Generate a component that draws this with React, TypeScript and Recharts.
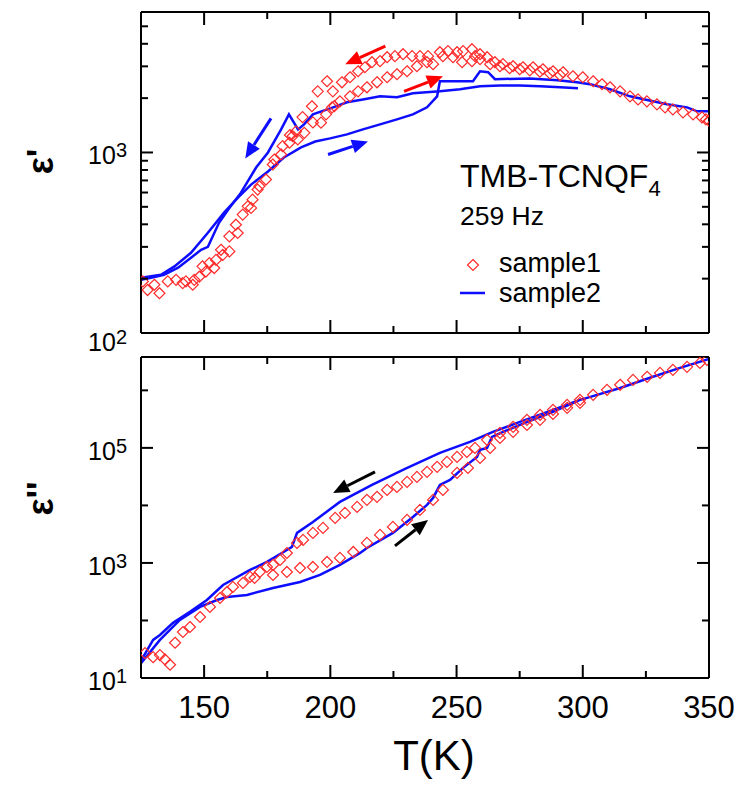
import { ComposedChart, Line, Scatter, XAxis, YAxis, ReferenceLine } from "recharts";

const FONT = "'Liberation Sans', Arial, Helvetica, sans-serif";
const RED = "#ff2b2b";
const BLUE = "#0d0dff";
const AXIS = { stroke: "#000", strokeWidth: 2 };

// axes
const xTicks = [150, 175, 200, 225, 250, 275, 300, 325, 350];
const xMajor = [150, 200, 250, 300, 350];
const topYTicks = [100, 200, 300, 400, 500, 600, 700, 800, 900, 1000, 2000, 3000, 4000, 5000];
const topYMajor = [100, 1000];
const botYTicks = [10, 100, 1000, 10000, 100000, 1000000];
const botYMajor = [10, 1000, 100000];

// eps' : sample1 (diamonds), [T, value]
const s1TopCool: [number, number][] = [
  [350, 1500], [348.8, 1525], [347.2, 1564], [343.7, 1626], [339.7, 1668], [335.7, 1733], [332.6, 1778],
  [329.4, 1848], [325.4, 1920], [321.9, 1968], [318.7, 2047], [314.8, 2182], [310.8, 2297], [307.6, 2388],
  [304.1, 2480], [300, 2610], [296.1, 2644], [292.2, 2783], [288.2, 2818], [284.2, 2891], [280.3, 2965],
  [276.3, 2965], [272.4, 3005], [268.4, 3084], [265.2, 3162], [262.1, 3371], [259.3, 3502], [256.1, 3733],
  [252.6, 3643], [250.2, 3593], [246.6, 3643], [243.4, 3593], [238.7, 3415], [235.5, 3415], [232.4, 3415],
  [228.8, 3502], [225.6, 3415], [222.5, 3371], [219.7, 3205], [216.5, 3162], [213.7, 2965], [211, 2818],
  [207.8, 2610], [204.6, 2448], [201, 2182], [198.7, 2480], [195, 2182], [192.7, 1803], [189, 1570],
  [186.4, 1308], [184, 1250],
];
const s1TopHeat: [number, number][] = [
  [125.7, 193], [127.6, 173], [130.3, 185], [132.3, 166], [135.6, 193], [138.9, 197], [141.5, 189],
  [142.8, 193], [145.5, 185], [146.1, 197], [148.1, 205], [149.4, 234], [150.7, 219], [152.1, 244],
  [154, 229], [154.7, 254], [156.7, 289], [157.4, 271], [160, 283], [160, 343], [162.6, 398], [163.3, 358],
  [165.3, 453], [167.3, 503], [168.6, 493], [169.2, 548], [171.2, 623], [171.9, 650], [174.5, 708],
  [177.2, 858], [177.8, 914], [180.5, 975], [181.1, 1084], [183.8, 1132], [185.1, 1233], [187.1, 1181],
  [189.7, 1285], [193.1, 1468], [196.3, 1462], [198.3, 1626], [200.7, 1778], [201.6, 1807], [203.8, 1920],
  [207.8, 2047], [211, 2182], [214.5, 2297], [218.5, 2448], [222.5, 2610], [226.4, 2713], [230.4, 2818],
  [234.3, 3005], [238.3, 3162], [240.7, 3084], [244.6, 3415], [248.6, 3371], [252.2, 3162], [256.1, 3205],
  [257.3, 3415], [259.3, 3287], [263.3, 3084], [267.2, 3005], [271, 2930], [275, 2890], [279, 2850],
  [283, 2800], [287, 2740], [291, 2680],
];

// eps' : sample2 (line)
const s2TopHeat: [number, number][] = [
  [125, 202], [132.9, 210], [138.1, 233], [144.8, 278], [151.5, 359], [157.9, 464], [163.4, 562],
  [168.6, 664], [175.3, 784], [181.6, 938], [188.4, 1066], [194, 1150], [199.9, 1197], [206.6, 1259],
  [212.9, 1342], [219.7, 1431], [226.4, 1525], [232.7, 1626], [238.3, 1778], [242.3, 2047], [243.4, 2480],
  [248.6, 2480], [256.5, 2480], [259.3, 2818], [262.5, 2783], [265.2, 2547], [279, 2570], [290, 2512],
  [297.7, 2448], [302.9, 2388], [310.8, 2239], [318.7, 2047], [327.8, 1920], [333.4, 1848], [341.3, 1778],
  [345.3, 1690], [350, 1690],
];
const s2TopCool: [number, number][] = [
  [298.1, 2270], [291, 2297], [283.1, 2326], [275.1, 2350], [267.2, 2350], [259.3, 2326], [251.4, 2239],
  [243.4, 2182], [232.7, 2128], [226.4, 2021], [219.7, 2047], [212.9, 1968], [206.6, 1897], [201.1, 1778],
  [193.1, 1626], [189.6, 1431], [187.2, 1342], [183.6, 1626], [180.5, 1342], [175.3, 1000], [170.6, 825],
  [164.6, 599], [159.5, 482], [155.9, 408], [151.5, 300], [148.8, 289], [144.8, 261], [139.7, 230],
  [134.1, 210], [129, 202], [125, 197],
];

// eps'' : sample1
const s1BotCool: [number, number][] = [
  [349.2, 3390000], [346.4, 3000000], [341.3, 2560000], [335.7, 2270000], [330.6, 2010000], [325.5, 1720000],
  [319.9, 1520000], [314.8, 1250000], [309.6, 1020000], [304.1, 836000], [298.9, 684000], [293.8, 560000],
  [288.2, 458000], [283.1, 375000], [277.9, 307000], [272.4, 232000], [267.2, 182000], [262.1, 138000],
  [257.3, 100000], [254.1, 85000], [250.2, 69700], [246.2, 57100], [242.3, 46800], [238.3, 38300],
  [234.3, 31300], [230.4, 25600], [226.4, 21000], [222.5, 18600], [218.5, 14100], [214.5, 12500],
  [210.6, 9420], [205.8, 7410], [201.9, 6070], [197.1, 4060], [193.1, 3330], [189.2, 2510], [186.8, 2230],
  [182.8, 1490], [180.1, 1130], [177.3, 923], [174.9, 851], [172.1, 697], [168.2, 571], [165.4, 449],
  [161.4, 383], [159.1, 313], [156.3, 246], [152.3, 172], [148.4, 115], [144.4, 77], [141.6, 63],
  [138.5, 41], [136.5, 17], [134.5, 21], [132.5, 25], [129.8, 23], [126.6, 27],
];
const s1BotHeat: [number, number][] = [
  [170, 548], [177.3, 618], [182.8, 697], [188, 818], [193.1, 851], [198.7, 1040], [203.8, 1222],
  [209.1, 1552], [214.5, 2228], [219.7, 3069], [224.8, 4227], [230.4, 5600], [235.5, 8360], [240.7, 12470],
  [244.6, 18600], [250.2, 36700], [254.5, 44900], [259.3, 67000], [263.3, 100000], [267.2, 149000],
  [272.4, 190000], [277.9, 250000], [283.1, 307000], [288.2, 390000], [293.8, 497000], [298.9, 607000],
];

// eps'' : sample2
const s2BotHeat: [number, number][] = [
  [125, 18], [132.5, 46], [140.4, 102], [148.4, 172], [155.1, 227], [159.1, 256], [167, 278], [177.3, 367],
  [188, 467], [195.9, 619], [203.8, 923], [211.8, 1492], [214.5, 1824], [224.8, 3327], [232.7, 6310],
  [238.3, 10200], [240.7, 13490], [243.4, 22730], [247.4, 27750], [252.6, 44900], [258.1, 69660],
  [259.3, 92300], [262.1, 100000], [264, 155200], [268.4, 189600], [275.1, 251000], [288.2, 422600],
  [298.9, 684000], [301.7, 741000], [314.8, 1100000], [327.8, 1720000], [338.5, 2460000], [350, 3500000],
];
const s2BotCool: [number, number][] = [
  [298, 660000], [288.2, 458000], [275.1, 283000], [264.4, 189600], [255.3, 127000], [243.4, 81800],
  [229.6, 43150], [216.5, 22730], [203.8, 11510], [193.1, 5164], [186.8, 3327], [184.8, 1898],
  [182.8, 1682], [174.9, 1041], [168.2, 756], [157.5, 414], [151.1, 227], [144.4, 141], [137.7, 91],
  [132.5, 56], [129.8, 46], [125, 20],
];

// annotation arrows: [tail, tip]
const topRedArrows: [number, number][][] = [
  [[221.8, 3881], [205.9, 3084]],
  [[229.2, 2182], [244.6, 2644]],
];
const topBlueArrows: [number, number][][] = [
  [[176.5, 1545], [166.3, 926]],
  [[199.1, 975], [214.9, 1151]],
];
const botArrows: [number, number][][] = [
  [[217.7, 38300], [201.1, 16500]],
  [[225.6, 1977], [238.7, 5600]],
];

const pts = (a: [number, number][]) => a.map(([T, v]) => ({ T, v }));

const Diamond = (p: any) => {
  const { cx, cy } = p;
  const r = 5.5;
  if (cx == null || cy == null) return <g />;
  return (
    <path
      d={`M${cx},${cy - r}L${cx + r},${cy}L${cx},${cy + r}L${cx - r},${cy}Z`}
      fill="none"
      stroke={RED}
      strokeWidth={1.2}
    />
  );
};

const arrowShape = (color: string) => (p: any) => {
  const { x1, y1, x2, y2 } = p;
  const dx = x2 - x1;
  const dy = y2 - y1;
  const L = Math.hypot(dx, dy) || 1;
  const ux = dx / L;
  const uy = dy / L;
  const hl = 16;
  const hw = 7;
  const bx = x2 - ux * hl;
  const by = y2 - uy * hl;
  return (
    <g>
      <line x1={x1} y1={y1} x2={bx} y2={by} stroke={color} strokeWidth={3} />
      <polygon
        points={`${x2},${y2} ${bx - uy * hw},${by + ux * hw} ${bx + uy * hw},${by - ux * hw}`}
        fill={color}
      />
    </g>
  );
};

const xTick = (side: "top" | "bottom", showLabel: boolean) => (p: any) => {
  const v = p.payload.value;
  const major = xMajor.includes(v);
  const len = major ? 13 : 7;
  const d = side === "bottom" ? -1 : 1;
  return (
    <g>
      <line x1={p.x} y1={p.y} x2={p.x} y2={p.y + d * len} stroke="#000" strokeWidth={2} />
      {showLabel && major && (
        <text x={p.x} y={p.y + 40} textAnchor="middle" fontSize={31} fontFamily={FONT} fill="#000">
          {v}
        </text>
      )}
    </g>
  );
};

const yTick = (side: "left" | "right", major: number[], showLabel: boolean, lowest?: number) => (p: any) => {
  const v = p.payload.value;
  const isMajor = major.includes(v);
  const len = isMajor ? 12 : 7;
  const d = side === "left" ? 1 : -1;
  const exp = Math.round(Math.log10(v));
  const shift = v === lowest ? 18 : 12;
  return (
    <g>
      <line x1={p.x} y1={p.y} x2={p.x + d * len} y2={p.y} stroke="#000" strokeWidth={2} />
      {showLabel && isMajor && (
        <text x={p.x - 14} y={p.y + shift} textAnchor="end" fontFamily={FONT} fontSize={25} fill="#000">
          10
          <tspan dy={-7} fontSize={20}>
            {exp}
          </tspan>
        </text>
      )}
    </g>
  );
};

const yTitle = (text: string, dyc: number) => (props: any) => {
  const vb = props.viewBox || { x: 0, y: 12, width: 141, height: 321 };
  const x = vb.x + 53;
  const y = vb.y + vb.height / 2 + dyc;
  return (
    <text
      x={x}
      y={y}
      transform={`rotate(-90 ${x} ${y})`}
      textAnchor="middle"
      fontFamily={FONT}
      fontWeight="bold"
      fontSize={36}
      fill="#000"
    >
      {text}
    </text>
  );
};

const xTitle = (props: any) => {
  const vb = props.viewBox || { x: 141, y: 333, width: 568, height: 111 };
  return (
    <text x={vb.x + vb.width / 2 + 9} y={vb.y + 92} textAnchor="middle" fontFamily={FONT} fontSize={42} fill="#000">
      T(K)
    </text>
  );
};

// shared frame axes (bottom/left carry the labels, top/right only mirror the ticks)
const frameAxes = (
  yDomain: [number, number],
  yTicks: number[],
  yMajor: number[],
  bottomHeight: number,
  bottomLabels: boolean,
  yTitleText: string,
  yTitleShift: number,
  lowest?: number
) => [
  <XAxis
    key="xb"
    dataKey="T"
    type="number"
    domain={[125, 350]}
    ticks={xTicks}
    interval={0}
    allowDataOverflow
    height={bottomHeight}
    tickSize={0}
    tickMargin={0}
    tickLine={false}
    axisLine={AXIS}
    tick={xTick("bottom", bottomLabels)}
    label={bottomLabels ? { content: xTitle } : undefined}
  />,
  <XAxis
    key="xt"
    xAxisId="top"
    orientation="top"
    dataKey="T"
    type="number"
    domain={[125, 350]}
    ticks={xTicks}
    interval={0}
    allowDataOverflow
    height={1}
    tickSize={0}
    tickMargin={0}
    tickLine={false}
    axisLine={AXIS}
    tick={xTick("top", false)}
  />,
  <YAxis
    key="yl"
    dataKey="v"
    scale="log"
    type="number"
    domain={yDomain}
    ticks={yTicks}
    interval={0}
    allowDataOverflow
    width={141}
    tickSize={0}
    tickMargin={0}
    tickLine={false}
    axisLine={AXIS}
    tick={yTick("left", yMajor, true, lowest)}
    label={{ content: yTitle(yTitleText, yTitleShift) }}
  />,
  <YAxis
    key="yr"
    yAxisId="r"
    orientation="right"
    dataKey="v"
    scale="log"
    type="number"
    domain={yDomain}
    ticks={yTicks}
    interval={0}
    allowDataOverflow
    width={1}
    tickSize={0}
    tickMargin={0}
    tickLine={false}
    axisLine={AXIS}
    tick={yTick("right", yMajor, false)}
  />,
];

export default function App() {
  return (
    <div style={{ position: "absolute", left: 0, top: 0, width: 747, height: 789, background: "#fff" }}>
      <div style={{ position: "absolute", left: 0, top: 0 }}>
        <ComposedChart width={747} height={360} margin={{ top: 11, right: 37, bottom: 26, left: 0 }}>
          {frameAxes([100, 6000], topYTicks, topYMajor, 1, false, "ε'", -11, 100)}
          <Scatter data={pts(s1TopCool)} dataKey="v" shape={Diamond} isAnimationActive={false} />
          <Scatter
            data={pts(s1TopHeat)}
            dataKey="v"
            xAxisId="top"
            yAxisId="r"
            shape={Diamond}
            isAnimationActive={false}
          />
          <Line data={pts(s2TopHeat)} dataKey="v" type="linear" stroke={BLUE} strokeWidth={2.5} dot={false} isAnimationActive={false} />
          <Line data={pts(s2TopCool)} dataKey="v" type="linear" stroke={BLUE} strokeWidth={2.5} dot={false} isAnimationActive={false} />
          {topRedArrows.map(([a, b], i) => (
            <ReferenceLine key={"r" + i} segment={[{ x: a[0], y: a[1] }, { x: b[0], y: b[1] }]} shape={arrowShape("#ff0000")} />
          ))}
          {topBlueArrows.map(([a, b], i) => (
            <ReferenceLine key={"b" + i} segment={[{ x: a[0], y: a[1] }, { x: b[0], y: b[1] }]} shape={arrowShape(BLUE)} />
          ))}
        </ComposedChart>
      </div>

      <div style={{ position: "absolute", left: 0, top: 345 }}>
        <ComposedChart width={747} height={444} margin={{ top: 11, right: 37, bottom: 0, left: 0 }}>
          {frameAxes([10, 3800000], botYTicks, botYMajor, 111, true, "ε''", -19)}
          <Scatter data={pts(s1BotCool)} dataKey="v" shape={Diamond} isAnimationActive={false} />
          <Scatter
            data={pts(s1BotHeat)}
            dataKey="v"
            xAxisId="top"
            yAxisId="r"
            shape={Diamond}
            isAnimationActive={false}
          />
          <Line data={pts(s2BotHeat)} dataKey="v" type="linear" stroke={BLUE} strokeWidth={2.5} dot={false} isAnimationActive={false} />
          <Line data={pts(s2BotCool)} dataKey="v" type="linear" stroke={BLUE} strokeWidth={2.5} dot={false} isAnimationActive={false} />
          {botArrows.map(([a, b], i) => (
            <ReferenceLine key={"k" + i} segment={[{ x: a[0], y: a[1] }, { x: b[0], y: b[1] }]} shape={arrowShape("#000")} />
          ))}
        </ComposedChart>
      </div>

      {/* legend block inside the upper panel */}
      <svg width={747} height={789} style={{ position: "absolute", left: 0, top: 0, pointerEvents: "none" }}>
        <text x={460} y={187} fontFamily={FONT} fontSize={32} fill="#000">
          TMB-TCNQF
          <tspan dy={9} fontSize={22}>
            4
          </tspan>
        </text>
        <text x={460} y={225} fontFamily={FONT} fontSize={26.5} fill="#000">
          259 Hz
        </text>
        <path d="M473,259.5L478.5,265L473,270.5L467.5,265Z" fill="none" stroke={RED} strokeWidth={1.2} />
        <text x={499} y={272} fontFamily={FONT} fontSize={27} fill="#000">
          sample1
        </text>
        <line x1={460} y1={293} x2={485} y2={293} stroke={BLUE} strokeWidth={2.5} />
        <text x={499} y={302} fontFamily={FONT} fontSize={27} fill="#000">
          sample2
        </text>
      </svg>
    </div>
  );
}
